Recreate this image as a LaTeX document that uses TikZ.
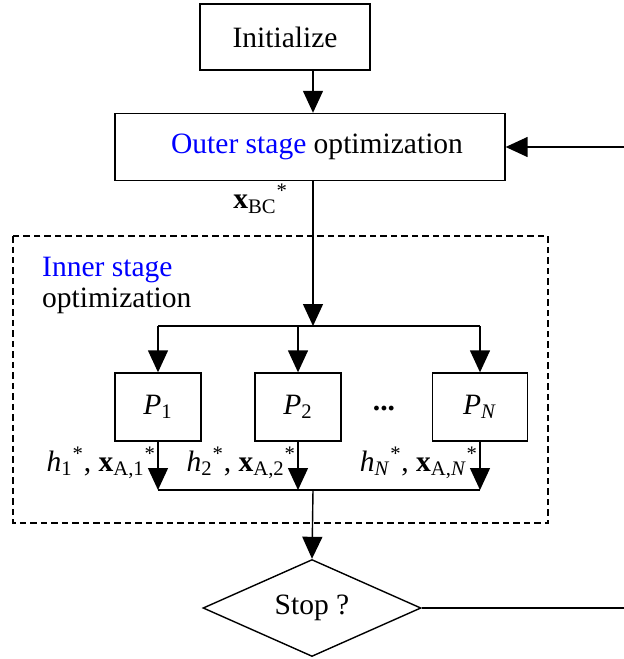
\documentclass[tikz,border=0pt]{standalone}
\usepackage{fontspec}
\setmainfont{Liberation Serif}
\usepackage{xcolor}
\usetikzlibrary{arrows.meta,positioning,shapes.geometric,calc}
\definecolor{stageblue}{RGB}{0,0,255}
% result labels under the subproblems
\newcommand{\hres}[1]{\textit{h}\textsubscript{#1}\textsuperscript{*}}
\newcommand{\xres}[1]{\textbf{x}\textsubscript{#1}\textsuperscript{*}}

\begin{document}
\begin{tikzpicture}[x=0.02cm, y=-0.02cm, font=\rmfamily\fontsize{16.8pt}{19pt}\selectfont,
box/.style={draw, line width=0.8pt, minimum width=1.72cm, minimum height=1.36cm, inner sep=0pt, align=center},
decision/.style={draw, line width=0.8pt, diamond, aspect=2.25, minimum width=4.36cm, minimum height=1.94cm, inner sep=0pt},
arrow/.style={-{Triangle[length=0.44cm, width=0.4cm]}, line width=0.8pt},
link/.style={line width=0.8pt}]
\useasboundingbox (0,0) rectangle (624,659);
% main column
\node[box, minimum width=3.4cm, minimum height=1.32cm] (init) at (285,37) {Initialize};
\node[box, minimum width=7.8cm, minimum height=1.34cm] (outer) at (310,147) {\hspace{8pt}{\color{stageblue}Outer stage} optimization};
\coordinate (spine) at (313,0);
\coordinate (fork) at (313,326);
\coordinate (join) at (313,490);
\coordinate (back) at (632,0);
\node[anchor=east] (xbc) at (294,199) {\textbf{x}\textsubscript{BC}\textsuperscript{*}};
% inner stage frame
\draw[line width=0.8pt, dash pattern=on 0.13cm off 0.08cm] (13,236) rectangle (548,523);
\node[anchor=north west, align=left, font=\rmfamily\fontsize{16.8pt}{17.6pt}\selectfont] (inner) at (36,251) {{\color{stageblue}Inner stage}\\optimization};
% subproblems
\node[box] (p1) at (158,407) {\textit{P}\textsubscript{1}};
\node[box] (p2) at (298,407) {\textit{P}\textsubscript{2}};
\node[box, minimum width=1.9cm] (pN) at (480,407) {\textit{P}\textsubscript{\textit{N}}};
\node (dots) at (384,409) {\textbf{...}};
\node[anchor=east, inner sep=1pt] (o1) at (p1.south |- 0,463) {\hres{1}, \xres{A,1}\hspace{4pt}};
\node[anchor=east, inner sep=1pt] (o2) at (p2.south |- 0,463) {\hres{2}, \xres{A,2}\hspace{4pt}};
\node[anchor=east, inner sep=1pt] (oN) at (pN.south |- 0,463) {\hres{\textit{N}}, \xres{A,\textit{N}}\hspace{4pt}};
\node[decision] (stop) at (312,608) {Stop ?};
% connections
\draw[arrow] (init.south -| spine) -- (outer.north -| spine);
\draw[arrow] (outer.south -| spine) -- (fork);
\draw[link] (p1.north |- fork) -- (pN.north |- fork);
\draw[arrow] (p1.north |- fork) -- (p1.north);
\draw[arrow] (p2.north |- fork) -- (p2.north);
\draw[arrow] (pN.north |- fork) -- (pN.north);
\draw[arrow] (p1.south) -- (p1.south |- join);
\draw[arrow] (p2.south) -- (p2.south |- join);
\draw[arrow] (pN.south) -- (pN.south |- join);
\draw[link] (p1.south |- join) -- (pN.south |- join);
\draw[arrow] (join) -- (stop.north);
\draw[arrow] (stop.east) -| (back |- outer.east) -- (outer.east);
\end{tikzpicture}
\end{document}
